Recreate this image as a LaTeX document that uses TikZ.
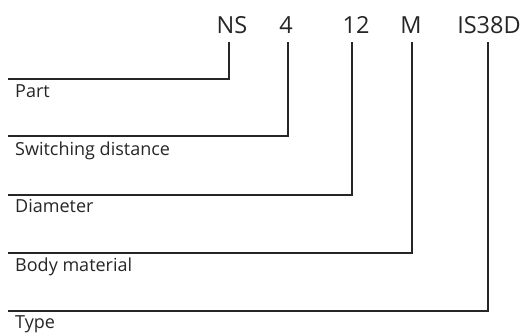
\documentclass[tikz,border=0pt]{standalone}
\usepackage{fontspec}
\setmainfont{Open Sans}
\begin{document}
\begin{tikzpicture}[x=1pt,y=-1pt,
  code/.style={font=\fontsize{23.5}{26}\selectfont, anchor=base, inner sep=0pt, text=black!85},
  lbl/.style={font=\fontsize{18}{20}\selectfont, anchor=base west, inner sep=0pt, text=black!85},
  conn/.style={line width=1.8pt, draw=black!85}]
\useasboundingbox (0,0) rectangle (529,333);
\node[code] (ns) at (232,33) {NS};
\node[code] (sd) at (286,33) {4};
\node[code] (dm) at (356,33) {12};
\node[code] (bm) at (411,33) {M};
\node[code] (ty) at (489,33) {IS38D};
\coordinate (ns1) at (229,42);
\coordinate (sd1) at (288,42);
\coordinate (dm1) at (352,42);
\coordinate (bm1) at (412,42);
\coordinate (ty1) at (488,42);
\coordinate (ns2) at (8,79);
\coordinate (sd2) at (8,136);
\coordinate (dm2) at (8,195);
\coordinate (bm2) at (8,253);
\coordinate (ty2) at (8,311);
\draw[conn] (ns1) |- (ns2);
\draw[conn] (sd1) |- (sd2);
\draw[conn] (dm1) |- (dm2);
\draw[conn] (bm1) |- (bm2);
\draw[conn] (ty1) |- (ty2);
\node[lbl] (l1) at (15,97) {Part};
\node[lbl] (l2) at (15,155.5) {Switching distance};
\node[lbl] (l3) at (15,212.5) {Diameter};
\node[lbl] (l4) at (15,271) {Body material};
\node[lbl] (l5) at (15,328) {Type};
\end{tikzpicture}
\end{document}
